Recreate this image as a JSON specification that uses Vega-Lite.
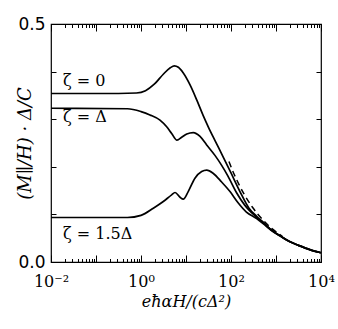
{
  "$schema": "https://vega.github.io/schema/vega-lite/v6.json",
  "width": 270,
  "height": 238,
  "autosize": "none",
  "padding": {"left": 51, "top": 24, "right": 17, "bottom": 67},
  "config": {
    "view": {"stroke": "black", "strokeWidth": 1.2},
    "axis": {"domain": false, "grid": false, "tickColor": "black", "labelColor": "black", "titleColor": "black", "tickWidth": 1}
  },
  "datasets": {
    "curves": [
      {"zeta": "0", "x": 0.01, "y": 0.354},
      {"zeta": "0", "x": 0.316, "y": 0.354},
      {"zeta": "0", "x": 0.794, "y": 0.355},
      {"zeta": "0", "x": 1.26, "y": 0.36},
      {"zeta": "0", "x": 2.0, "y": 0.374},
      {"zeta": "0", "x": 3.16, "y": 0.395},
      {"zeta": "0", "x": 4.47, "y": 0.408},
      {"zeta": "0", "x": 5.5, "y": 0.412},
      {"zeta": "0", "x": 6.76, "y": 0.409},
      {"zeta": "0", "x": 8.71, "y": 0.397},
      {"zeta": "0", "x": 12.3, "y": 0.372},
      {"zeta": "0", "x": 17.4, "y": 0.34},
      {"zeta": "0", "x": 24.0, "y": 0.308},
      {"zeta": "0", "x": 31.6, "y": 0.283},
      {"zeta": "0", "x": 44.7, "y": 0.254},
      {"zeta": "0", "x": 67.6, "y": 0.22},
      {"zeta": "0", "x": 100, "y": 0.187},
      {"zeta": "0", "x": 158, "y": 0.148},
      {"zeta": "0", "x": 251, "y": 0.113},
      {"zeta": "0", "x": 372, "y": 0.096},
      {"zeta": "0", "x": 525, "y": 0.083},
      {"zeta": "0", "x": 794, "y": 0.067},
      {"zeta": "0", "x": 1230, "y": 0.055},
      {"zeta": "0", "x": 1995, "y": 0.043},
      {"zeta": "0", "x": 3162, "y": 0.035},
      {"zeta": "0", "x": 5623, "y": 0.026},
      {"zeta": "0", "x": 10000, "y": 0.0195},
      {"zeta": "D", "x": 0.01, "y": 0.323},
      {"zeta": "D", "x": 0.5, "y": 0.322},
      {"zeta": "D", "x": 1.0, "y": 0.316},
      {"zeta": "D", "x": 1.58, "y": 0.309},
      {"zeta": "D", "x": 2.64, "y": 0.298},
      {"zeta": "D", "x": 3.72, "y": 0.284},
      {"zeta": "D", "x": 4.8, "y": 0.27},
      {"zeta": "D", "x": 6.3, "y": 0.256},
      {"zeta": "D", "x": 8.0, "y": 0.262},
      {"zeta": "D", "x": 10.4, "y": 0.269},
      {"zeta": "D", "x": 14.5, "y": 0.272},
      {"zeta": "D", "x": 20.5, "y": 0.264},
      {"zeta": "D", "x": 28.8, "y": 0.246},
      {"zeta": "D", "x": 44, "y": 0.224},
      {"zeta": "D", "x": 62, "y": 0.203},
      {"zeta": "D", "x": 85, "y": 0.181},
      {"zeta": "D", "x": 134, "y": 0.145},
      {"zeta": "D", "x": 200, "y": 0.12},
      {"zeta": "D", "x": 372, "y": 0.094},
      {"zeta": "D", "x": 525, "y": 0.082},
      {"zeta": "D", "x": 794, "y": 0.067},
      {"zeta": "D", "x": 1230, "y": 0.055},
      {"zeta": "D", "x": 1995, "y": 0.043},
      {"zeta": "D", "x": 3162, "y": 0.035},
      {"zeta": "D", "x": 5623, "y": 0.026},
      {"zeta": "D", "x": 10000, "y": 0.0195},
      {"zeta": "1.5D", "x": 0.01, "y": 0.0935},
      {"zeta": "1.5D", "x": 0.5, "y": 0.0935},
      {"zeta": "1.5D", "x": 1.0, "y": 0.098},
      {"zeta": "1.5D", "x": 1.88, "y": 0.113},
      {"zeta": "1.5D", "x": 3.13, "y": 0.127},
      {"zeta": "1.5D", "x": 4.8, "y": 0.141},
      {"zeta": "1.5D", "x": 5.7, "y": 0.146},
      {"zeta": "1.5D", "x": 7.36, "y": 0.136},
      {"zeta": "1.5D", "x": 8.7, "y": 0.132},
      {"zeta": "1.5D", "x": 11.2, "y": 0.148},
      {"zeta": "1.5D", "x": 15.8, "y": 0.176},
      {"zeta": "1.5D", "x": 22.3, "y": 0.19},
      {"zeta": "1.5D", "x": 28.8, "y": 0.193},
      {"zeta": "1.5D", "x": 40.5, "y": 0.186},
      {"zeta": "1.5D", "x": 62, "y": 0.168},
      {"zeta": "1.5D", "x": 95, "y": 0.148},
      {"zeta": "1.5D", "x": 145, "y": 0.124},
      {"zeta": "1.5D", "x": 220, "y": 0.105},
      {"zeta": "1.5D", "x": 372, "y": 0.091},
      {"zeta": "1.5D", "x": 525, "y": 0.08},
      {"zeta": "1.5D", "x": 794, "y": 0.066},
      {"zeta": "1.5D", "x": 1230, "y": 0.055},
      {"zeta": "1.5D", "x": 1995, "y": 0.043},
      {"zeta": "1.5D", "x": 3162, "y": 0.035},
      {"zeta": "1.5D", "x": 5623, "y": 0.026},
      {"zeta": "1.5D", "x": 10000, "y": 0.0195}
    ],
    "asym": [
      {"x": 90, "y": 0.211},
      {"x": 100, "y": 0.2},
      {"x": 150, "y": 0.163},
      {"x": 200, "y": 0.141},
      {"x": 300, "y": 0.115},
      {"x": 500, "y": 0.0894},
      {"x": 800, "y": 0.0707},
      {"x": 1400, "y": 0.0535}
    ],
    "labels": [
      {"x": 0.0185, "y": 0.38, "t": "ζ = 0"},
      {"x": 0.0185, "y": 0.305, "t": "ζ = Δ"},
      {"x": 0.0185, "y": 0.059, "t": "ζ = 1.5Δ"}
    ]
  },
  "layer": [
    {
      "data": {"name": "curves"},
      "mark": {"type": "line", "color": "black", "strokeWidth": 1.7, "interpolate": "monotone"},
      "encoding": {
        "x": {
          "field": "x", "type": "quantitative",
          "scale": {"type": "log", "domain": [0.01, 10000]},
          "axis": {
            "orient": "bottom",
            "values": [0.01,0.02,0.03,0.04,0.05,0.06,0.07,0.08,0.09,0.1,0.2,0.3,0.4,0.5,0.6,0.7,0.8,0.9,1,2,3,4,5,6,7,8,9,10,20,30,40,50,60,70,80,90,100,200,300,400,500,600,700,800,900,1000,2000,3000,4000,5000,6000,7000,8000,9000,10000],
            "tickSize": {"condition": {"test": "abs(log(datum.value)/LN10 - round(log(datum.value)/LN10)) < 0.001", "value": -7}, "value": -3.5},
            "labelExpr": "datum.value == 0.01 ? '10⁻²' : datum.value == 1 ? '10⁰' : datum.value == 100 ? '10²' : datum.value == 10000 ? '10⁴' : ''",
            "labelFont": "DejaVu Serif", "labelFontSize": 16, "labelPadding": 18, "labelFlush": false, "labelOverlap": false,
            "title": "eħαH/(cΔ²)", "titleFont": "DejaVu Serif", "titleFontStyle": "italic", "titleFontWeight": "normal", "titleFontSize": 16, "titlePadding": 1
          }
        },
        "y": {
          "field": "y", "type": "quantitative",
          "scale": {"domain": [0, 0.5]},
          "axis": {
            "orient": "left",
            "values": [0, 0.1, 0.2, 0.3, 0.4, 0.5],
            "tickSize": -5,
            "labelExpr": "datum.value == 0 ? '0.0' : datum.value == 0.5 ? '0.5' : ''",
            "labelFont": "DejaVu Sans", "labelFontSize": 17, "labelPadding": 11, "labelFlush": false, "labelOverlap": false,
            "title": "(M∥/H) · Δ/C", "titleFont": "DejaVu Serif", "titleFontStyle": "italic", "titleFontWeight": "normal", "titleFontSize": 18,
            "titleX": -17, "titleY": 119
          }
        },
        "detail": {"field": "zeta"}
      }
    },
    {
      "data": {"name": "asym"},
      "mark": {"type": "line", "color": "black", "strokeWidth": 1.5, "strokeDash": [6, 4], "interpolate": "monotone"},
      "encoding": {
        "x": {"field": "x", "type": "quantitative", "axis": null},
        "y": {"field": "y", "type": "quantitative", "axis": null}
      }
    },
    {
      "data": {"name": "labels"},
      "mark": {"type": "text", "align": "left", "baseline": "middle", "font": "DejaVu Serif", "fontSize": 16, "color": "black"},
      "encoding": {
        "x": {"field": "x", "type": "quantitative", "axis": null},
        "y": {"field": "y", "type": "quantitative", "axis": null},
        "text": {"field": "t"}
      }
    },
    {
      "data": {"name": "curves"},
      "mark": {"type": "line", "opacity": 0},
      "encoding": {
        "x": {
          "field": "x", "type": "quantitative",
          "axis": {
            "orient": "top",
            "values": [0.01,0.02,0.03,0.04,0.05,0.06,0.07,0.08,0.09,0.1,0.2,0.3,0.4,0.5,0.6,0.7,0.8,0.9,1,2,3,4,5,6,7,8,9,10,20,30,40,50,60,70,80,90,100,200,300,400,500,600,700,800,900,1000,2000,3000,4000,5000,6000,7000,8000,9000,10000],
            "tickSize": {"condition": {"test": "abs(log(datum.value)/LN10 - round(log(datum.value)/LN10)) < 0.001", "value": -7}, "value": -3.5},
            "labels": false, "title": null
          }
        },
        "y": {
          "field": "y", "type": "quantitative",
          "axis": {"orient": "right", "values": [0, 0.1, 0.2, 0.3, 0.4, 0.5], "tickSize": -5, "labels": false, "title": null}
        },
        "detail": {"field": "zeta"}
      }
    }
  ],
  "resolve": {"axis": {"x": "independent", "y": "independent"}}
}
